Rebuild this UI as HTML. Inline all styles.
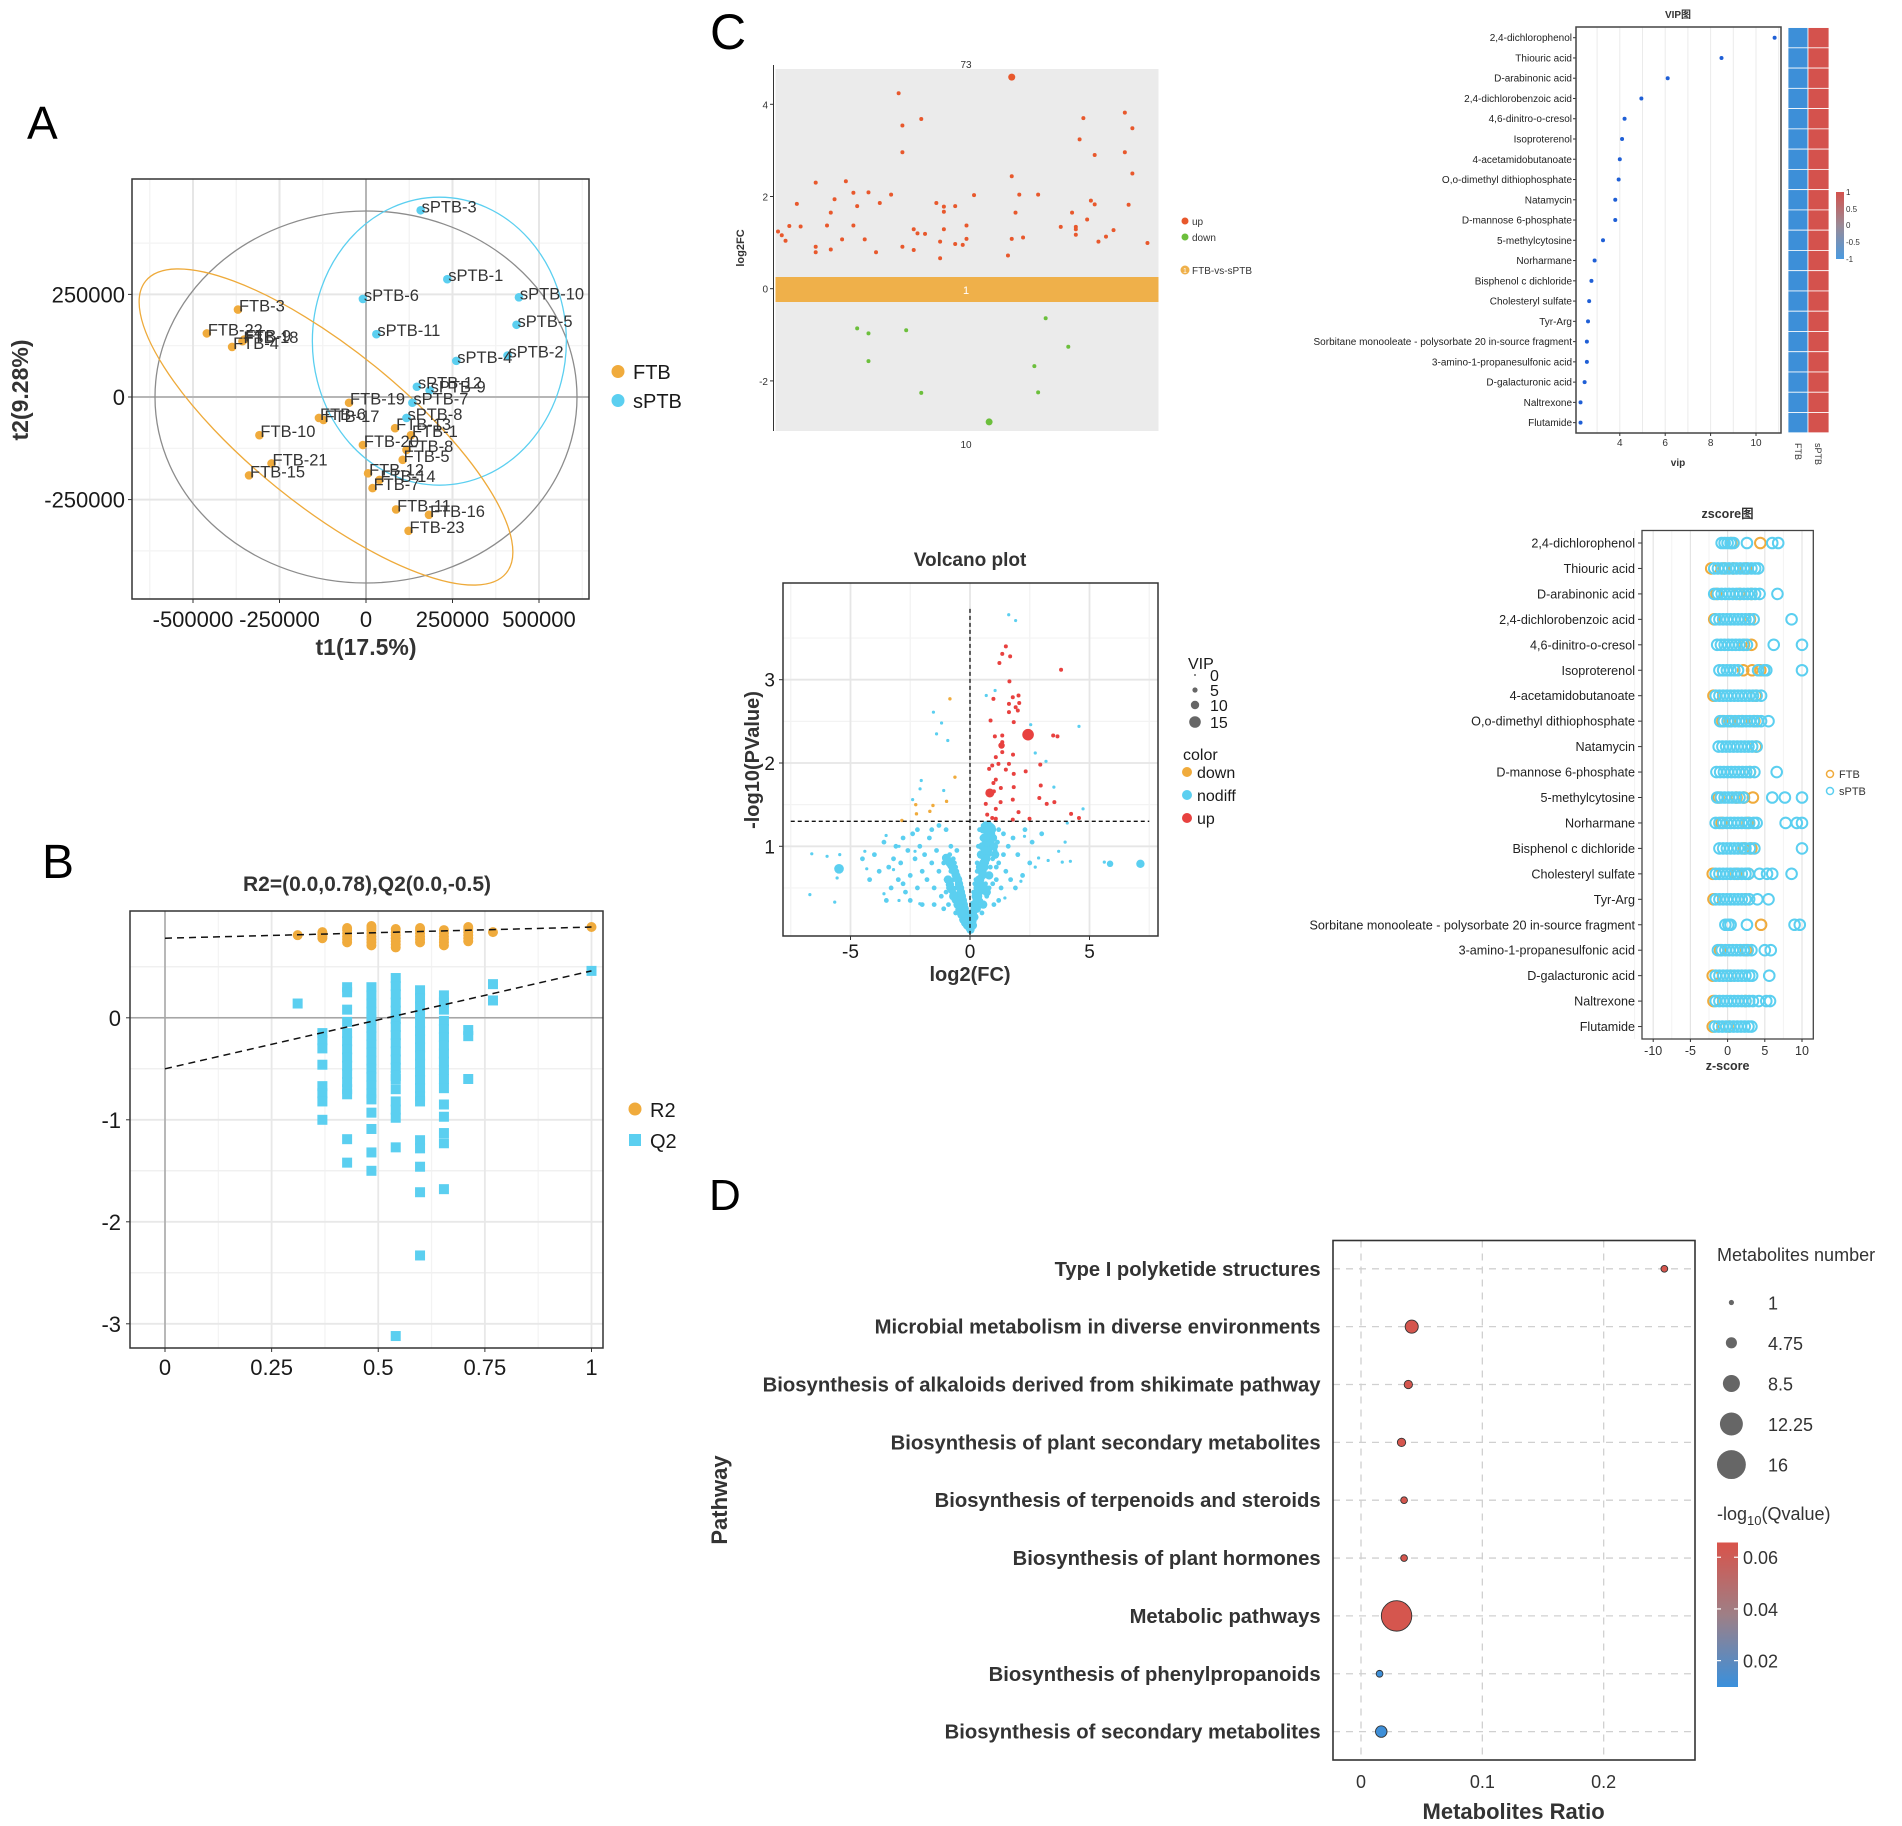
<!DOCTYPE html>
<html><head><meta charset="utf-8">
<style>
html,body{margin:0;padding:0;background:#fff;}
svg{display:block;font-family:"Liberation Sans","Noto Sans CJK SC",sans-serif;}
</style></head>
<body>
<svg id="fig" xmlns="http://www.w3.org/2000/svg" width="1902" height="1826" viewBox="0 0 1902 1826">
<defs>
<linearGradient id="vipbar" x1="0" y1="0" x2="0" y2="1"><stop offset="0" stop-color="#d4524d"/><stop offset="0.5" stop-color="#9a8a96"/><stop offset="1" stop-color="#4a9ae0"/></linearGradient>
<linearGradient id="qbar" x1="0" y1="0" x2="0" y2="1"><stop offset="0" stop-color="#d9534a"/><stop offset="0.5" stop-color="#9e7f86"/><stop offset="1" stop-color="#3a90dc"/></linearGradient>
</defs>
</svg>
<script>
// ---------------- DATA ----------------
// Panel A (PCA scores)
const aFtbNames=['FTB-3','FTB-22','FTB-4','FTB-18','FTB-9','FTB-19','FTB-6','FTB-17','FTB-10','FTB-21','FTB-15','FTB-20','FTB-13','FTB-1','FTB-8','FTB-5','FTB-12','FTB-14','FTB-7','FTB-11','FTB-16','FTB-23'];
const aFtbT1=[-370000,-460000,-387000,-357000,-352000,-49000,-136000,-123000,-308000,-273000,-338000,-9000,84000,130000,117000,106000,6000,39000,19000,87000,182000,123000];
const aFtbT2=[213000,155000,122000,136000,140000,-14000,-51000,-56000,-93000,-162000,-191000,-117000,-76000,-93000,-129000,-153000,-186000,-202000,-222000,-274000,-287000,-326000];
const aSptbNames=['sPTB-3','sPTB-1','sPTB-6','sPTB-10','sPTB-5','sPTB-11','sPTB-4','sPTB-2','sPTB-12','sPTB-9','sPTB-7','sPTB-8'];
const aSptbT1=[158000,235000,-9000,442000,435000,30000,261000,409000,147000,184000,134000,117000];
const aSptbT2=[455000,287000,239000,243000,176000,153000,88000,101000,25000,16000,-14000,-51000];
const aXTicks=[-500000,-250000,0,250000,500000];
const aYTicks=[-250000,0,250000];

// Panel B (permutation test)
const bCols=[0.311,0.369,0.427,0.484,0.541,0.598,0.654,0.711,0.769,1.0];
const bR2=[[0.81],[0.78,0.8,0.82,0.84],[0.74,0.77,0.8,0.83,0.86,0.88],[0.71,0.74,0.77,0.8,0.83,0.86,0.88,0.9],[0.69,0.72,0.75,0.78,0.81,0.84,0.87],[0.74,0.77,0.8,0.83,0.86,0.88],[0.71,0.74,0.77,0.8,0.83,0.86],[0.75,0.78,0.81,0.84,0.87,0.89],[0.84],[0.89]];
const bQ2=[[0.14],
[-0.15,-0.22,-0.3,-0.46,-0.67,-0.74,-0.82,-1.0],
[0.3,0.25,0.08,-0.04,-0.15,-0.23,-0.31,-0.39,-0.47,-0.55,-0.63,-0.7,-0.75,-1.19,-1.42],
[0.3,0.22,0.14,0.06,-0.02,-0.1,-0.18,-0.26,-0.34,-0.42,-0.5,-0.58,-0.66,-0.74,-0.8,-0.93,-1.09,-1.32,-1.5],
[0.39,0.31,0.23,0.15,0.07,-0.01,-0.09,-0.17,-0.25,-0.33,-0.41,-0.49,-0.57,-0.6,-0.7,-0.82,-0.9,-0.98,-1.27,-3.12],
[0.27,0.19,0.11,0.03,-0.05,-0.13,-0.21,-0.29,-0.37,-0.45,-0.53,-0.61,-0.69,-0.77,-0.82,-1.2,-1.28,-1.46,-1.71,-2.33],
[0.22,0.15,0.08,-0.03,-0.11,-0.19,-0.27,-0.35,-0.43,-0.51,-0.6,-0.69,-0.85,-0.97,-1.13,-1.23,-1.68],
[-0.12,-0.18,-0.6],
[0.33,0.17],
[0.46]];
const bLineR2=[0.78,0.89];
const bLineQ2=[-0.5,0.46];
const bXTicks=[0,0.25,0.5,0.75,1];
const bXLabels=['0','0.25','0.5','0.75','1'];
const bYTicks=[0,-1,-2,-3];

// Panel C1 (log2FC jitter)
const cUpF=[0,.01,.02,.03,.05,.06,.10,.10,.10,.13,.14,.14,.15,.17,.18,.20,.20,.21,.23,.24,.26,.27,.30,.32,.33,.33,.33,.36,.36,.37,.38,.39,.43,.42,.44,.44,.44,.43,.47,.47,.49,.50,.50,.52,.61,.62,.62,.63,.64,.65,.69,.75,.78,.79,.79,.79,.80,.81,.82,.83,.84,.84,.85,.87,.89,.92,.92,.93,.94,.94,.98];
const cUpV=[1.24,1.16,1.04,1.36,1.84,1.35,2.30,0.79,0.91,1.37,0.85,1.65,1.94,1.07,2.33,2.08,1.37,1.79,1.07,2.09,0.79,1.86,2.04,4.24,3.54,2.96,0.91,0.84,1.29,1.20,3.68,1.19,0.66,1.86,1.78,1.67,1.29,1.02,0.97,1.79,0.95,1.37,1.08,2.03,0.72,2.44,1.08,1.65,2.04,1.11,2.04,1.34,1.65,1.34,1.29,1.17,3.24,3.70,1.50,1.91,1.83,2.90,1.02,1.13,1.27,3.82,2.96,1.82,3.48,2.50,0.99];
const cBigUp=[0.62,4.59];
const cDownF=[.21,.24,.24,.34,.38,.68,.69,.71,.77];
const cDownV=[-0.86,-0.97,-1.57,-0.90,-2.26,-1.68,-2.25,-0.64,-1.26];
const cBigDown=[0.56,-2.89];
const cYTicks=[4,2,0,-2];

// VIP
const vipNames=['2,4-dichlorophenol','Thiouric acid','D-arabinonic acid','2,4-dichlorobenzoic acid','4,6-dinitro-o-cresol','Isoproterenol','4-acetamidobutanoate','O,o-dimethyl dithiophosphate','Natamycin','D-mannose 6-phosphate','5-methylcytosine','Norharmane','Bisphenol c dichloride','Cholesteryl sulfate','Tyr-Arg','Sorbitane monooleate - polysorbate 20 in-source fragment','3-amino-1-propanesulfonic acid','D-galacturonic acid','Naltrexone','Flutamide'];
const vipVals=[10.82,8.48,6.11,4.95,4.21,4.1,4.0,3.95,3.8,3.8,3.26,2.89,2.75,2.65,2.6,2.55,2.55,2.45,2.27,2.27];
const vipTicks=[4,6,8,10];

// Volcano
const vUpX=[1.5,1.35,1.68,1.23,1.65,3.81,1.79,2.03,0.98,1.63,2.06,1.91,2.0,1.63,0.86,1.83,3.48,3.66,1.04,1.35,1.35,1.35,1.08,1.8,1.19,0.93,2.94,1.63,2.33,0.8,1.5,1.83,1.08,0.98,2.96,1.83,1.29,1.0,2.9,1.79,1.28,3.53,0.66,3.21,1.08,2.03,4.23,4.56,0.72,0.93,1.79,2.49,1.08];
const vUpY=[3.40,3.31,3.28,3.2,2.98,3.12,2.79,2.81,2.77,2.71,2.72,2.67,2.63,2.61,2.51,2.49,2.33,2.32,2.32,2.33,2.25,2.13,2.07,2.1,1.99,1.97,1.98,1.99,1.9,1.93,1.92,1.87,1.8,1.76,1.73,1.71,1.7,1.66,1.58,1.56,1.53,1.53,1.51,1.51,1.45,1.41,1.39,1.34,1.38,1.34,1.32,1.33,1.33];
const vUpBigX=[2.43,0.83,1.32];
const vUpBigY=[2.34,1.64,2.21];
const vUpBigVip=[15,11,7];
const vDownX=[-0.84,-0.63,-2.27,-1.55,-0.98,-2.24,-1.68,-2.85];
const vDownY=[2.77,1.83,1.50,1.49,1.54,1.39,1.42,1.31];
const vNoX=[1.62,1.91,-1.53,-1.19,-1.4,-0.93,4.56,3.18,2.73,2.54,0.68,1.05,-2.04,-2.4,-2.09,-1.1,3.51,4.73,4.07,3.98,3.71,2.87,3.27,3.86,4.2,5.62,-6.62,-5.98,-5.45,-6.7,-5.66,-5.56,-4.4,-4.32,-3.6,-3.2,-3.51,-2.97,-2.3,-2.1,-2.97,2.13,1.46,2.73,2.28,
0.05,0.1,0.15,0.2,0.25,0.3,0.35,0.4,0.45,0.5,0.55,0.6,0.65,0.7,0.75,0.8,0.85,0.9,0.95,1.0,0.3,0.35,0.4,0.45,0.5,0.55,0.6,0.65,0.7,0.75,0.8,0.85,0.9,0.5,0.6,0.7,0.8,1.1,1.2,1.3,1.4,1.5,1.6,1.7,1.8,2.0,1.2,1.4,1.0,1.2,0.25,0.3,0.2,0.15,0.35,0.4,0.45,0.55,0.65,0.75,1.05,1.15,1.1,0.95,2.3,2.5,2.6,3.0,1.9,2.2,
-0.05,-0.1,-0.15,-0.2,-0.25,-0.3,-0.35,-0.4,-0.45,-0.5,-0.55,-0.6,-0.65,-0.7,-0.4,-0.5,-0.6,-0.7,-0.8,-0.3,-0.2,-0.9,-1.0,-1.1,-1.2,-1.3,-1.4,-1.5,-1.6,-1.7,-1.8,-1.9,-2.0,-2.1,-2.2,-2.3,-2.4,-2.5,-2.6,-2.7,-2.8,-2.9,-3.0,-3.1,-3.2,-3.3,-3.4,-3.6,-3.8,-4.0,-4.2,-4.5,-1.0,-1.3,-0.8,-0.9,-1.1,-1.5,-2.0,-2.5,-1.0,-0.75,-0.85,-0.55,-0.45,-1.6,-2.2,-2.8,-3.5,-0.6];
const vNoY=[3.78,3.71,2.61,2.48,2.35,2.27,2.44,2.02,2.12,2.46,2.81,2.87,1.79,1.56,1.69,1.67,1.71,1.45,1.28,1.05,0.94,0.86,0.83,0.81,0.82,0.81,0.91,0.88,0.9,0.42,0.33,0.62,0.94,0.73,0.43,0.72,1.13,1.0,0.94,0.31,0.35,0.58,0.38,0.75,1.12,
0.05,0.1,0.2,0.3,0.15,0.4,0.25,0.5,0.35,0.6,0.45,0.7,0.55,0.8,0.65,0.9,0.75,1.0,0.85,1.1,0.8,1.0,1.2,0.9,1.1,1.25,1.0,1.2,1.15,1.05,1.25,1.2,1.25,0.2,0.3,0.4,0.5,0.6,0.8,0.5,0.9,0.7,1.0,0.6,1.1,0.9,1.2,1.15,0.3,0.35,0.6,0.7,0.55,0.45,0.55,0.75,0.65,0.85,0.95,1.2,0.95,1.05,0.75,0.55,1.2,0.8,1.05,1.15,0.5,0.65,
0.05,0.12,0.2,0.28,0.35,0.42,0.5,0.55,0.6,0.65,0.7,0.75,0.8,0.85,0.3,0.4,0.5,0.6,0.7,0.2,0.15,0.5,0.6,0.8,0.4,0.7,0.95,0.5,0.8,1.1,0.6,0.9,0.7,1.0,0.5,0.85,1.15,0.65,0.95,0.45,1.1,0.8,0.6,1.0,0.85,0.5,0.75,1.05,0.7,0.9,0.6,0.85,1.2,1.25,1.0,0.3,0.25,0.3,0.3,0.35,0.45,0.45,0.9,0.95,0.25,1.2,1.2,0.55,0.35,0.2];
// dense core of the V (non-significant metabolites)
const vCoreX=[0.02,0.06,0.1,0.12,0.16,0.2,0.24,0.28,0.32,0.36,0.4,0.44,0.48,0.52,0.56,0.6,0.64,0.68,0.72,0.76,0.8,0.84,0.88,0.92,0.96,1.0,1.05,0.12,0.18,0.22,0.28,0.34,0.38,0.42,0.46,0.52,0.58,0.62,0.66,0.72,0.78,0.84,0.9,0.55,0.6,0.7,0.8,0.62,0.68,0.74,
-0.02,-0.06,-0.1,-0.14,-0.18,-0.22,-0.26,-0.3,-0.34,-0.38,-0.42,-0.46,-0.5,-0.55,-0.6,-0.65,-0.7,-0.75,-0.8,-0.85,-0.9,-0.95,-1.0,-0.12,-0.2,-0.28,-0.36,-0.44,-0.52,-0.6,-0.68,-0.76,-0.84,-0.92,-0.3,-0.5,-0.7];
const vCoreY=[0.0,0.05,0.1,0.2,0.3,0.25,0.4,0.35,0.5,0.45,0.6,0.55,0.7,0.65,0.8,0.75,0.9,0.85,1.0,0.95,1.1,1.05,1.15,1.2,1.1,1.0,0.9,0.05,0.15,0.3,0.25,0.4,0.6,0.75,0.9,1.0,1.1,1.2,1.25,1.22,1.25,1.2,1.22,0.3,0.5,0.45,0.65,0.95,1.05,1.15,
0.02,0.06,0.1,0.15,0.2,0.25,0.3,0.35,0.4,0.45,0.5,0.55,0.6,0.62,0.66,0.7,0.72,0.76,0.78,0.8,0.82,0.84,0.86,0.05,0.08,0.12,0.18,0.24,0.3,0.36,0.42,0.48,0.54,0.6,0.2,0.3,0.4];
const vNoBigX=[-5.48,7.13,5.86,0.55,0.75,0.65];
const vNoBigY=[0.73,0.79,0.79,1.2,1.2,1.1];
const vNoBigVip=[12,10,7,9,9,9];

// z-score
const zSptb=[
[-0.8,-0.4,0,0.4,0.8,2.6,6.0,6.8],
[-1.8,-1.3,-0.8,-0.3,0.2,0.7,1.2,1.7,2.2,2.7,3.2,3.7,4.1],
[-1.8,-1.3,-0.8,-0.3,0.2,0.7,1.2,1.7,2.2,2.7,3.2,3.7,4.3,6.7],
[-1.6,-1.1,-0.6,-0.1,0.4,0.9,1.4,1.9,2.4,2.9,3.5,8.6],
[-1.4,-0.9,-0.4,0.1,0.6,1.1,1.6,2.1,2.6,6.2,10],
[-1.1,-0.6,-0.1,0.4,0.9,1.4,4.1,4.9,5.2,10],
[-1.6,-1.1,-0.6,-0.1,0.4,0.9,1.4,1.9,2.4,2.9,3.4,3.9,4.5],
[-1.0,-0.5,0,0.5,1.0,1.5,2.0,2.5,3.0,3.5,4.0,4.5,5.5],
[-1.2,-0.7,-0.2,0.3,0.8,1.3,1.8,2.3,2.8,3.3,3.9],
[-1.5,-1.0,-0.5,0,0.5,1.0,1.5,2.0,2.5,3.0,3.6,6.6],
[-1.4,-0.9,-0.4,0.1,0.6,1.1,1.6,2.1,6.0,7.7,10],
[-1.6,-1.1,-0.6,-0.1,0.4,0.9,1.4,1.9,2.4,2.9,3.5,3.9,7.8,9.3,10],
[-1.1,-0.6,-0.1,0.4,0.9,1.4,1.9,2.4,3.0,3.6,10],
[-1.6,-1.1,-0.6,-0.1,0.4,0.9,1.4,1.9,2.4,2.8,4.3,5.3,6.0,8.6],
[-1.6,-1.1,-0.6,-0.1,0.4,0.9,1.4,1.9,2.4,2.9,4.0,5.5],
[-0.3,0.1,0.4,2.6,9.0,9.7],
[-1.3,-0.8,-0.3,0.2,0.7,1.2,1.7,2.2,2.7,3.2,5.0,5.8],
[-1.6,-1.1,-0.6,-0.1,0.4,0.9,1.4,1.9,2.4,2.9,3.3,5.6],
[-1.6,-1.1,-0.6,-0.1,0.4,0.9,1.4,1.9,2.4,2.9,3.4,4.2,5.2,5.7],
[-1.7,-1.2,-0.7,-0.2,0.3,0.8,1.3,1.8,2.3,2.8,3.2]];
const zFtb=[[0.5,4.4],[-2.2,-0.5,0.8,2.5],[-1.5,1.6,3.2],[-1.8,3.0],[2.2,3.2],[2.1,3.3,4.4],[-1.9,3.8],[-0.7,0.3,1.9,3.6],[3.8],[3.0],[-1.2,1.2,2.2,3.4],[-0.8,2.7],[2.2,3.2],[-2.0,1.2,2.8],[-1.9,2.4],[4.5],[-1.0,2.5],[-2.0,0.4],[-1.9,2.4],[-2.0,0.2]];
const zTicks=[-10,-5,0,5,10];

// Panel D (KEGG enrichment)
const dPathways=['Type I polyketide structures','Microbial metabolism in diverse environments','Biosynthesis of alkaloids derived from shikimate pathway','Biosynthesis of plant secondary metabolites','Biosynthesis of terpenoids and steroids','Biosynthesis of plant hormones','Metabolic pathways','Biosynthesis of phenylpropanoids','Biosynthesis of secondary metabolites'];
const dRatio=[0.25,0.0418,0.039,0.0334,0.0355,0.0355,0.0293,0.0153,0.0167];
const dCount=[2,6,3,3,2,2,17,2,5];
const dQ=[0.064,0.064,0.064,0.064,0.064,0.064,0.064,0.011,0.011];
const dXTicks=[0,0.1,0.2];
const dSizeBreaks=[1,4.75,8.5,12.25,16];
const dColorTicks=[0.06,0.04,0.02];

// ---------------- HELPERS ----------------
const NS='http://www.w3.org/2000/svg';
const svg=document.getElementById('fig');
function mk(tag,attrs,parent){const e=document.createElementNS(NS,tag);for(const k in attrs)e.setAttribute(k,attrs[k]);(parent||svg).appendChild(e);return e;}
function tx(str,attrs,parent){const e=mk('text',attrs,parent);e.textContent=str;return e;}
function grp(name){const g=mk('g',{});return g;}
const OR='#f0ab3c', BL='#5bcff0', RD='#e8413f';

// ---------------- PANEL LETTERS ----------------
const letters=grp('panel-letters');
let L;
L=tx('A',{x:27,y:139,'font-size':46,fill:'#000'},letters);


L=tx('B',{x:42,y:878,'font-size':48,fill:'#000'},letters);


L=tx('C',{x:710,y:49,'font-size':50,fill:'#000'},letters);


L=tx('D',{x:709,y:1210,'font-size':44,fill:'#000'},letters);



// ---------------- PANEL A ----------------
(function(){
const g=grp('pca-score-plot');
const xA=v=>366+v/500000*173, yA=v=>397-v/250000*102.6;
const L0=132,R0=589,T0=179,B0=599;
mk('rect',{x:L0,y:T0,width:R0-L0,height:B0-T0,fill:'#fff'},g);
[-625000,-375000,-125000,125000,375000,625000].forEach(v=>mk('line',{x1:xA(v),x2:xA(v),y1:T0,y2:B0,stroke:'#f3f3f3','stroke-width':1.2},g));
[-375000,-125000,125000,375000].forEach(v=>mk('line',{x1:L0,x2:R0,y1:yA(v),y2:yA(v),stroke:'#f3f3f3','stroke-width':1.2},g));
aXTicks.forEach(v=>mk('line',{x1:xA(v),x2:xA(v),y1:T0,y2:B0,stroke:'#e6e6e6','stroke-width':2},g));
aYTicks.forEach(v=>mk('line',{x1:L0,x2:R0,y1:yA(v),y2:yA(v),stroke:'#e6e6e6','stroke-width':2},g));
mk('line',{x1:xA(0),x2:xA(0),y1:T0,y2:B0,stroke:'#a6a6a6','stroke-width':1.5},g);
mk('line',{x1:L0,x2:R0,y1:yA(0),y2:yA(0),stroke:'#a6a6a6','stroke-width':1.5},g);
let e;
e=mk('ellipse',{cx:xA(0),cy:yA(0),rx:211,ry:186,fill:'none',stroke:'#8c8c8c','stroke-width':1.3},g);


e=mk('ellipse',{cx:xA(212000),cy:yA(136000),rx:127,ry:144,fill:'none',stroke:'#5bcff0','stroke-width':1.3},g);


e=mk('ellipse',{cx:326,cy:427,rx:232,ry:78,fill:'none',stroke:'#eeaa3a','stroke-width':1.3,transform:'rotate(39 326 427)'},g);


function pts(names,t1,t2,col,nm){
 for(let i=0;i<names.length;i++){
  const c=mk('circle',{cx:xA(t1[i]),cy:yA(t2[i]),r:4.3,fill:col},g);
  
  
 }
 for(let i=0;i<names.length;i++){
  const t=tx(names[i],{x:xA(t1[i])+1,y:yA(t2[i])+2,'font-size':16.5,fill:'#333'},g);
  
  
 }
}
pts(aFtbNames,aFtbT1,aFtbT2,OR,'ftb');
pts(aSptbNames,aSptbT1,aSptbT2,BL,'sptb');
mk('rect',{x:L0,y:T0,width:R0-L0,height:B0-T0,fill:'none',stroke:'#333','stroke-width':1.5},g);
const lbl=['-500000','-250000','0','250000','500000'];
aXTicks.forEach((v,i)=>{mk('line',{x1:xA(v),x2:xA(v),y1:B0,y2:B0+4,stroke:'#333'},g);
 const t=tx(lbl[i],{x:xA(v),y:627,'font-size':22,'text-anchor':'middle',fill:'#1a1a1a'},g);
 
 });
aYTicks.forEach(v=>{mk('line',{x1:L0-4,x2:L0,y1:yA(v),y2:yA(v),stroke:'#333'},g);
 const t=tx(String(v),{x:125,y:yA(v)+8,'font-size':22,'text-anchor':'end',fill:'#1a1a1a'},g);
 
 });
let t=tx('t1(17.5%)',{x:366,y:655,'font-size':23,'font-weight':'bold','text-anchor':'middle',fill:'#333'},g);


t=tx('t2(9.28%)',{x:0,y:0,'font-size':23,'font-weight':'bold','text-anchor':'middle',fill:'#333',transform:'translate(28 390) rotate(-90)'},g);


const lg=grp('pca-legend');
e=mk('circle',{cx:618,cy:371.5,r:6.5,fill:OR},lg);


tx('FTB',{x:633,y:379,'font-size':20,fill:'#1a1a1a'},lg);
e=mk('circle',{cx:618,cy:400.5,r:6.5,fill:BL},lg);


tx('sPTB',{x:633,y:408,'font-size':20,fill:'#1a1a1a'},lg);
})();

// ---------------- PANEL B ----------------
(function(){
const g=grp('permutation-plot');
const xB=v=>165+v*426.5, yB=v=>1017.8-v*102;
const L0=130,R0=603,T0=911,B0=1348;
[0.125,0.375,0.625,0.875].forEach(v=>mk('line',{x1:xB(v),x2:xB(v),y1:T0,y2:B0,stroke:'#f3f3f3','stroke-width':1.2},g));
[0.5,-0.5,-1.5,-2.5].forEach(v=>mk('line',{x1:L0,x2:R0,y1:yB(v),y2:yB(v),stroke:'#f0f0f0','stroke-width':1.5},g));
bXTicks.forEach(v=>mk('line',{x1:xB(v),x2:xB(v),y1:T0,y2:B0,stroke:'#e8e8e8','stroke-width':1.8},g));
bYTicks.forEach(v=>mk('line',{x1:L0,x2:R0,y1:yB(v),y2:yB(v),stroke:'#e8e8e8','stroke-width':1.8},g));
mk('line',{x1:xB(0),x2:xB(0),y1:T0,y2:B0,stroke:'#a6a6a6','stroke-width':1.5},g);
mk('line',{x1:L0,x2:R0,y1:yB(0),y2:yB(0),stroke:'#a6a6a6','stroke-width':1.5},g);
for(let i=0;i<bCols.length;i++){
 bQ2[i].forEach(v=>{const r=mk('rect',{x:xB(bCols[i])-5,y:yB(v)-5,width:10,height:10,fill:BL},g);
  
  });
 bR2[i].forEach(v=>{const c=mk('circle',{cx:xB(bCols[i]),cy:yB(v),r:5,fill:OR},g);
  
  });
}
let e=mk('line',{x1:xB(0),y1:yB(bLineR2[0]),x2:xB(1),y2:yB(bLineR2[1]),stroke:'#111','stroke-width':1.5,'stroke-dasharray':'7 5'},g);


e=mk('line',{x1:xB(0),y1:yB(bLineQ2[0]),x2:xB(1),y2:yB(bLineQ2[1]),stroke:'#111','stroke-width':1.5,'stroke-dasharray':'7 5'},g);


mk('rect',{x:L0,y:T0,width:R0-L0,height:B0-T0,fill:'none',stroke:'#333','stroke-width':1.5},g);
bXTicks.forEach((v,i)=>{mk('line',{x1:xB(v),x2:xB(v),y1:B0,y2:B0+4,stroke:'#333'},g);
 const t=tx(bXLabels[i],{x:xB(v),y:1375,'font-size':22,'text-anchor':'middle',fill:'#1a1a1a'},g);
 
 });
bYTicks.forEach(v=>{mk('line',{x1:L0-4,x2:L0,y1:yB(v),y2:yB(v),stroke:'#333'},g);
 const t=tx(String(v),{x:121,y:yB(v)+8,'font-size':22,'text-anchor':'end',fill:'#1a1a1a'},g);
 
 });
let t=tx('R2=(0.0,0.78),Q2(0.0,-0.5)',{x:367,y:891,'font-size':21,'font-weight':'bold','text-anchor':'middle',fill:'#333'},g);


e=mk('circle',{cx:635,cy:1109,r:6.5,fill:OR},g);


tx('R2',{x:650,y:1117,'font-size':20,fill:'#1a1a1a'},g);
e=mk('rect',{x:629,y:1134,width:12,height:12,fill:BL},g);


tx('Q2',{x:650,y:1148,'font-size':20,fill:'#1a1a1a'},g);
})();

// ---------------- PANEL C1 (log2FC) ----------------
(function(){
const g=grp('log2fc-jitter-plot');
const xJ=f=>778+f*377, yF=v=>288.7-v*46.1;
mk('rect',{x:775.5,y:69,width:383,height:362,fill:'#ebebeb'},g);
mk('line',{x1:773.5,x2:773.5,y1:65,y2:431,stroke:'#333','stroke-width':1},g);
let band=mk('rect',{x:775.5,y:277,width:383,height:25,fill:'#efb04a'},g);


tx('1',{x:966,y:294,'font-size':11,'text-anchor':'middle',fill:'#fff'},g);
tx('73',{x:966,y:68,'font-size':10,'text-anchor':'middle',fill:'#333'},g);
tx('10',{x:966,y:448,'font-size':10,'text-anchor':'middle',fill:'#333'},g);
for(let i=0;i<cUpF.length;i++){const c=mk('circle',{cx:xJ(cUpF[i]),cy:yF(cUpV[i]),r:2,fill:'#e8582c'},g);
 
 }
let c=mk('circle',{cx:xJ(cBigUp[0]),cy:yF(cBigUp[1]),r:3.5,fill:'#e8582c'},g);


for(let i=0;i<cDownF.length;i++){const d=mk('circle',{cx:xJ(cDownF[i]),cy:yF(cDownV[i]),r:2,fill:'#6cbf3c'},g);
 
 }
c=mk('circle',{cx:xJ(cBigDown[0]),cy:yF(cBigDown[1]),r:3.5,fill:'#6cbf3c'},g);


cYTicks.forEach(v=>{mk('line',{x1:770,x2:773.5,y1:yF(v),y2:yF(v),stroke:'#333'},g);
 const t=tx(String(v),{x:768,y:yF(v)+4,'font-size':10,'text-anchor':'end',fill:'#333'},g);
 
 });
let t=tx('log2FC',{x:0,y:0,'font-size':11,'font-weight':'bold','text-anchor':'middle',fill:'#333',transform:'translate(744 248) rotate(-90)'},g);


c=mk('circle',{cx:1185,cy:221,r:3.5,fill:'#e8582c'},g);


tx('up',{x:1192,y:225,'font-size':10,fill:'#333'},g);
c=mk('circle',{cx:1185,cy:237,r:3.5,fill:'#6cbf3c'},g);


tx('down',{x:1192,y:241,'font-size':10,fill:'#333'},g);
c=mk('circle',{cx:1185,cy:270,r:4.5,fill:'#efb04a'},g);


tx('1',{x:1185,y:273,'font-size':7,'text-anchor':'middle',fill:'#fff'},g);
tx('FTB-vs-sPTB',{x:1192,y:274,'font-size':10,fill:'#333'},g);
})();

// ---------------- VIP ----------------
(function(){
const g=grp('vip-plot');
const xV=v=>1529+v*22.7, yR=i=>37.7+i*20.26;
const L0=1576,R0=1781,T0=27,B0=433;
mk('rect',{x:L0,y:T0,width:R0-L0,height:B0-T0,fill:'#fff'},g);
[3,4,5,6,7,8,9,10,11].forEach(v=>mk('line',{x1:xV(v),x2:xV(v),y1:T0,y2:B0,stroke:'#ebebeb','stroke-width':1},g));
for(let i=0;i<vipNames.length;i++){
 const c=mk('circle',{cx:xV(vipVals[i]),cy:yR(i),r:2,fill:'#1f5fd6'},g);
 
 
 mk('line',{x1:L0-3,x2:L0,y1:yR(i),y2:yR(i),stroke:'#333'},g);
 const t=tx(vipNames[i],{x:L0-4,y:yR(i)+3.5,'font-size':10,'text-anchor':'end',fill:'#222'},g);
 
 
 const h1=mk('rect',{x:1788,y:yR(i)-10.13,width:20,height:20.26,fill:'#3d8fd8',stroke:'#fff','stroke-width':0.8},g);
 
 
 const h2=mk('rect',{x:1808,y:yR(i)-10.13,width:21,height:20.26,fill:'#d4524d',stroke:'#fff','stroke-width':0.8},g);
 
 
}
mk('rect',{x:L0,y:T0,width:R0-L0,height:B0-T0,fill:'none',stroke:'#444','stroke-width':1.5},g);
vipTicks.forEach(v=>{mk('line',{x1:xV(v),x2:xV(v),y1:B0,y2:B0+3,stroke:'#333'},g);
 const t=tx(String(v),{x:xV(v),y:446,'font-size':10,'text-anchor':'middle',fill:'#333'},g);
 
 });
let t=tx('vip',{x:1678,y:466,'font-size':10,'font-weight':'bold','text-anchor':'middle',fill:'#333'},g);


t=tx('VIP图',{x:1678,y:18,'font-size':10,'font-weight':'bold','text-anchor':'middle',fill:'#333'},g);


tx('FTB',{x:0,y:0,'font-size':9,fill:'#333',transform:'translate(1795 443) rotate(90)'},g);
tx('sPTB',{x:0,y:0,'font-size':9,fill:'#333',transform:'translate(1815 443) rotate(90)'},g);
let cb=mk('rect',{x:1836,y:192,width:8,height:67,fill:'url(#vipbar)'},g);


[['1',192],['0.5',209],['0',225],['-0.5',242],['-1',259]].forEach(p=>tx(p[0],{x:1846,y:p[1]+3,'font-size':8,fill:'#333'},g));
})();

// ---------------- VOLCANO ----------------
(function(){
const g=grp('volcano-plot');
const xV=v=>970+v*23.9, yV=v=>929.6-v*83.3;
const L0=783,R0=1158,T0=583,B0=936;
const rV=v=>1+v*0.32;
[-7.5,-2.5,2.5,7.5].forEach(v=>mk('line',{x1:xV(v),x2:xV(v),y1:T0,y2:B0,stroke:'#f3f3f3','stroke-width':1.2},g));
[0.5,1.5,2.5,3.5].forEach(v=>mk('line',{x1:L0,x2:R0,y1:yV(v),y2:yV(v),stroke:'#f3f3f3','stroke-width':1.2},g));
[-5,0,5].forEach(v=>mk('line',{x1:xV(v),x2:xV(v),y1:T0,y2:B0,stroke:'#e6e6e6','stroke-width':1.8},g));
[1,2,3].forEach(v=>mk('line',{x1:L0,x2:R0,y1:yV(v),y2:yV(v),stroke:'#e6e6e6','stroke-width':1.8},g));
for(let i=0;i<vNoX.length;i++){const c=mk('circle',{cx:xV(vNoX[i]),cy:yV(vNoY[i]),r:i<45?1.6:2.4,fill:BL},g);
 
 }
for(let i=0;i<vCoreX.length;i++){const c=mk('circle',{cx:xV(vCoreX[i]),cy:yV(vCoreY[i]),r:4.2,fill:BL},g);
 
 }
for(let i=0;i<vNoBigX.length;i++){const c=mk('circle',{cx:xV(vNoBigX[i]),cy:yV(vNoBigY[i]),r:rV(vNoBigVip[i]),fill:BL},g);
 
 }
for(let i=0;i<vDownX.length;i++){const c=mk('circle',{cx:xV(vDownX[i]),cy:yV(vDownY[i]),r:1.7,fill:OR},g);
 
 }
for(let i=0;i<vUpX.length;i++){const c=mk('circle',{cx:xV(vUpX[i]),cy:yV(vUpY[i]),r:2,fill:RD},g);
 
 }
for(let i=0;i<vUpBigX.length;i++){const c=mk('circle',{cx:xV(vUpBigX[i]),cy:yV(vUpBigY[i]),r:rV(vUpBigVip[i]),fill:RD},g);
 
 }
let e=mk('line',{x1:xV(-7.5),x2:xV(7.5),y1:yV(1.3),y2:yV(1.3),stroke:'#111','stroke-width':1.3,'stroke-dasharray':'4 3'},g);


e=mk('line',{x1:xV(0),x2:xV(0),y1:yV(3.85),y2:B0,stroke:'#111','stroke-width':1.3,'stroke-dasharray':'4 3'},g);


mk('rect',{x:L0,y:T0,width:R0-L0,height:B0-T0,fill:'none',stroke:'#333','stroke-width':1.5},g);
[-5,0,5].forEach(v=>{mk('line',{x1:xV(v),x2:xV(v),y1:B0,y2:B0+4,stroke:'#333'},g);
 const t=tx(String(v),{x:xV(v),y:958,'font-size':19,'text-anchor':'middle',fill:'#1a1a1a'},g);
 
 });
[1,2,3].forEach(v=>{mk('line',{x1:L0-4,x2:L0,y1:yV(v),y2:yV(v),stroke:'#333'},g);
 const t=tx(String(v),{x:775,y:yV(v)+7,'font-size':19,'text-anchor':'end',fill:'#1a1a1a'},g);
 
 });
let t=tx('Volcano plot',{x:970,y:566,'font-size':19,'font-weight':'bold','text-anchor':'middle',fill:'#333'},g);


t=tx('log2(FC)',{x:970,y:981,'font-size':20,'font-weight':'bold','text-anchor':'middle',fill:'#333'},g);


t=tx('-log10(PValue)',{x:0,y:0,'font-size':20,'font-weight':'bold','text-anchor':'middle',fill:'#333',transform:'translate(759 760) rotate(-90)'},g);


const lg=grp('volcano-legend');
tx('VIP',{x:1188,y:669,'font-size':16,fill:'#1a1a1a'},lg);
[[0,675],[5,690],[10,705],[15,722]].forEach(p=>{const c=mk('circle',{cx:1195,cy:p[1],r:rV(p[0]),fill:'#666'},lg);
 
 
 tx(String(p[0]),{x:1210,y:p[1]+6,'font-size':16,fill:'#1a1a1a'},lg);});
tx('color',{x:1183,y:760,'font-size':16,fill:'#1a1a1a'},lg);
[['down',OR,772],['nodiff',BL,795],['up',RD,818]].forEach(p=>{const c=mk('circle',{cx:1187,cy:p[2],r:5,fill:p[1]},lg);
 
 
 tx(p[0],{x:1197,y:p[2]+6,'font-size':16,fill:'#1a1a1a'},lg);});
})();

// ---------------- Z-SCORE ----------------
(function(){
const g=grp('zscore-plot');
const xZ=v=>1727.6+v*7.44, yR=i=>543+i*25.45;
const L0=1642,R0=1813.3,T0=530.5,B0=1039;
[-12.5,-7.5,-2.5,2.5,7.5].forEach(v=>mk('line',{x1:xZ(v),x2:xZ(v),y1:T0,y2:B0,stroke:'#f3f3f3'},g));
zTicks.forEach(v=>mk('line',{x1:xZ(v),x2:xZ(v),y1:T0,y2:B0,stroke:'#e4e4e4','stroke-width':1.2},g));
for(let i=0;i<vipNames.length;i++){
 zFtb[i].forEach(v=>{const c=mk('circle',{cx:xZ(v),cy:yR(i),r:5.3,fill:'none',stroke:OR,'stroke-width':2},g);
  
  });
 zSptb[i].forEach(v=>{const c=mk('circle',{cx:xZ(v),cy:yR(i),r:5.3,fill:'none',stroke:BL,'stroke-width':2},g);
  
  });
 mk('line',{x1:L0-4,x2:L0,y1:yR(i),y2:yR(i),stroke:'#333'},g);
 const t=tx(vipNames[i],{x:1635,y:yR(i)+4.5,'font-size':12.6,'text-anchor':'end',fill:'#222'},g);
 
 
}
mk('rect',{x:L0,y:T0,width:R0-L0,height:B0-T0,fill:'none',stroke:'#444','stroke-width':1.3},g);
zTicks.forEach(v=>{mk('line',{x1:xZ(v),x2:xZ(v),y1:B0,y2:B0+3,stroke:'#333'},g);
 const t=tx(String(v),{x:xZ(v),y:1055,'font-size':12.5,'text-anchor':'middle',fill:'#333'},g);
 
 });
let t=tx('z-score',{x:1727.6,y:1070,'font-size':12.5,'font-weight':'bold','text-anchor':'middle',fill:'#333'},g);


t=tx('zscore图',{x:1727.6,y:518,'font-size':12.5,'font-weight':'bold','text-anchor':'middle',fill:'#333'},g);


let c=mk('circle',{cx:1830,cy:774,r:3.5,fill:'none',stroke:OR,'stroke-width':1.5},g);


tx('FTB',{x:1839,y:778,'font-size':11,fill:'#333'},g);
c=mk('circle',{cx:1830,cy:791,r:3.5,fill:'none',stroke:BL,'stroke-width':1.5},g);


tx('sPTB',{x:1839,y:795,'font-size':11,fill:'#333'},g);
})();

// ---------------- PANEL D ----------------
(function(){
const g=grp('kegg-bubble-plot');
const xD=v=>1361+v*1213.4, yR=i=>1268.8+i*57.85;
const rD=n=>1.8+0.79*n;
const L0=1333,R0=1695,T0=1240.5,B0=1760;
const qMin=0.0098,qMax=0.0657;
function qColor(q){const t=Math.max(0,Math.min(1,(q-qMin)/(qMax-qMin)));
 const a=[58,144,220],m=[158,127,134],b=[217,83,74];
 let c; if(t<0.5){const s=t/0.5;c=a.map((v,k)=>Math.round(v+(m[k]-v)*s));}else{const s=(t-0.5)/0.5;c=m.map((v,k)=>Math.round(v+(b[k]-v)*s));}
 return 'rgb('+c.join(',')+')';}
dXTicks.forEach(v=>mk('line',{x1:xD(v),x2:xD(v),y1:T0,y2:B0,stroke:'#d0d0d0','stroke-width':1.3,'stroke-dasharray':'7 6'},g));
const labW=[266,446,558,430,386,308,191,332,376];
for(let i=0;i<dPathways.length;i++){
 mk('line',{x1:L0,x2:R0,y1:yR(i),y2:yR(i),stroke:'#d0d0d0','stroke-width':1.3,'stroke-dasharray':'7 6'},g);
 const t=tx(dPathways[i],{x:1320.6,y:yR(i)+7,'font-size':20,'font-weight':'bold','text-anchor':'end',fill:'#333',textLength:labW[i],lengthAdjust:'spacingAndGlyphs'},g);
 
 
}
for(let i=0;i<dPathways.length;i++){
 const c=mk('circle',{cx:xD(dRatio[i]),cy:yR(i),r:rD(dCount[i]),fill:qColor(dQ[i]),stroke:'#333','stroke-width':0.9},g);
 
 
}
mk('rect',{x:L0,y:T0,width:R0-L0,height:B0-T0,fill:'none',stroke:'#333','stroke-width':1.6},g);
dXTicks.forEach(v=>{const t=tx(String(v),{x:xD(v),y:1788,'font-size':18,'text-anchor':'middle',fill:'#333'},g);
 
 });
let t=tx('Metabolites Ratio',{x:1513.6,y:1819,'font-size':22,'font-weight':'bold','text-anchor':'middle',fill:'#333'},g);


t=tx('Pathway',{x:0,y:0,'font-size':22,'font-weight':'bold','text-anchor':'middle',fill:'#333',transform:'translate(727 1500) rotate(-90)'},g);


const lg=grp('kegg-legend');
tx('Metabolites number',{x:1717,y:1261,'font-size':18,fill:'#333'},lg);
const ly=[1302.5,1342.8,1383.5,1424,1464.6];
dSizeBreaks.forEach((n,k)=>{const c=mk('circle',{cx:1731.4,cy:ly[k],r:rD(n),fill:'#666'},lg);
 
 
 tx(String(n),{x:1768,y:ly[k]+7,'font-size':18,fill:'#333'},lg);});
const q=tx('-log',{x:1717,y:1520,'font-size':18,fill:'#333'},lg);
const s=mk('tspan',{'font-size':13,dy:5},q); s.textContent='10';
const s2=mk('tspan',{dy:-5},q); s2.textContent='(Qvalue)';
const cb=mk('rect',{x:1717,y:1542.5,width:21,height:144.5,fill:'url(#qbar)'},lg);


const cy=v=>1687-(v-qMin)/(qMax-qMin)*144.5;
dColorTicks.forEach(v=>{mk('line',{x1:1717,x2:1721,y1:cy(v),y2:cy(v),stroke:'#fff','stroke-width':1.2},lg);
 mk('line',{x1:1734,x2:1738,y1:cy(v),y2:cy(v),stroke:'#fff','stroke-width':1.2},lg);
 tx(v.toFixed(2),{x:1743,y:cy(v)+7,'font-size':18,fill:'#333'},lg);});
})();
</script>
</body></html>
